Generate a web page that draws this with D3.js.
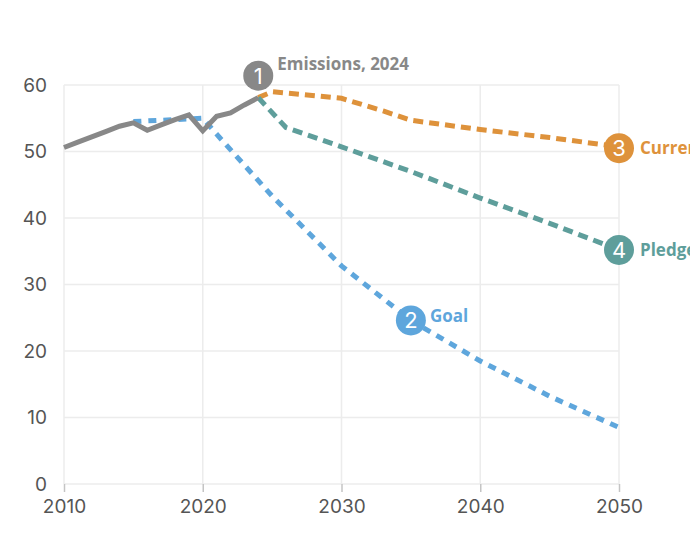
<!DOCTYPE html>
<html>
<head>
<meta charset="utf-8">
<script src="https://cdn.jsdelivr.net/npm/d3@7"></script>
<style>
  body { margin: 0; background: #fff; }
  svg { display: block; font-family: "Inter", "Noto Sans", sans-serif; }
</style>
</head>
<body>
<div id="chart"></div>
<script>
// --- Data ---
const historyYears = [2010, 2011, 2012, 2013, 2014, 2015, 2016, 2017, 2018, 2019, 2020, 2021, 2022, 2023, 2024];
const historyValues = [50.6, 51.4, 52.2, 53.0, 53.8, 54.3, 53.2, 54.0, 54.8, 55.5, 53.1, 55.3, 55.8, 57.0, 58.1];

const goalYears = [2015, 2020, 2021, 2025, 2030, 2035, 2040, 2045, 2050];
const goalValues = [54.5, 55.0, 52.6, 43.3, 32.8, 24.6, 18.5, 13.2, 8.5];

const currentYears = [2024, 2025, 2030, 2033, 2035, 2040, 2045, 2050];
const currentValues = [58.1, 59.0, 58.0, 56.1, 54.7, 53.3, 52.1, 50.7];

const pledgeYears = [2024, 2026, 2030, 2035, 2040, 2045, 2050];
const pledgeValues = [58.1, 53.6, 50.7, 47.0, 43.0, 39.2, 35.2];

const xTicks = [2010, 2020, 2030, 2040, 2050];
const yTicks = [0, 10, 20, 30, 40, 50, 60];

// --- Config ---
const width = 690;
const height = 550;
const colors = { history: '#888888', goal: '#5ea6dc', current: '#de923b', pledge: '#5e9e9b' };

const x = d3.scaleLinear().domain([2010, 2050]).range([64, 619]);
const y = d3.scaleLinear().domain([0, 60]).range([484, 85]);

const svg = d3.select('#chart').append('svg')
    .attr('width', width)
    .attr('height', height);

// --- Grid ---
const grid = svg.append('g');
grid.selectAll('line.h')
    .data(yTicks)
    .join('line')
    .attr('class', 'h')
    .attr('x1', x(2010)).attr('x2', x(2050))
    .attr('y1', d => y(d)).attr('y2', d => y(d))
    .attr('stroke', '#ececec')
    .attr('stroke-width', 1.5);

grid.selectAll('line.v')
    .data(xTicks)
    .join('line')
    .attr('class', 'v')
    .attr('x1', d => x(d)).attr('x2', d => x(d))
    .attr('y1', y(60)).attr('y2', y(0))
    .attr('stroke', '#ececec')
    .attr('stroke-width', 1.5);

// --- Axes ---
const xAxis = svg.append('g')
    .attr('transform', `translate(0,${y(0)})`)
    .call(d3.axisBottom(x).tickValues(xTicks).tickFormat(d3.format('d')).tickSize(8).tickPadding(8));
xAxis.select('.domain').remove();
xAxis.selectAll('line').attr('stroke', '#c4c4c4').attr('stroke-width', 1.5);
xAxis.selectAll('text').attr('fill', '#555').style('font-size', '19px').style('font-family', 'Inter, sans-serif');

const yAxis = svg.append('g')
    .attr('transform', `translate(${x(2010)},0)`)
    .call(d3.axisLeft(y).tickValues(yTicks).tickSize(0).tickPadding(17));
yAxis.select('.domain').remove();
yAxis.selectAll('text').attr('fill', '#555').style('font-size', '19px').style('font-family', 'Inter, sans-serif');

// --- Lines ---
const line = d3.line().x(d => x(d[0])).y(d => y(d[1]));
const zip = (a, b) => a.map((v, i) => [v, b[i]]);

function drawSeries(years, values, color, dash) {
    svg.append('path')
        .datum(zip(years, values))
        .attr('fill', 'none')
        .attr('stroke', color)
        .attr('stroke-width', 5)
        .attr('stroke-dasharray', dash)
        .attr('d', line);
}

drawSeries(goalYears, goalValues, colors.goal, '8,7');
drawSeries(currentYears, currentValues, colors.current, '10,6');
drawSeries(pledgeYears, pledgeValues, colors.pledge, '10,6');
drawSeries(historyYears, historyValues, colors.history, null);

// --- Labels ---
const labels = [
    { n: '1', text: 'Emissions, 2024', year: 2024, value: 58.1, dy: -22, color: colors.history, tx: 19, ty: -12 },
    { n: '2', text: 'Goal', year: 2035, value: 24.6, dy: 0, color: colors.goal, tx: 19, ty: -4 },
    { n: '3', text: 'Current policies', year: 2050, value: 50.5, dy: 0, color: colors.current, tx: 21, ty: 0 },
    { n: '4', text: 'Pledges', year: 2050, value: 35.2, dy: 0, color: colors.pledge, tx: 21, ty: 0 }
];

const lab = svg.selectAll('g.label')
    .data(labels)
    .join('g')
    .attr('class', 'label')
    .attr('transform', d => `translate(${x(d.year)},${y(d.value) + d.dy})`);

lab.append('circle')
    .attr('r', 15)
    .attr('fill', d => d.color);

lab.append('text')
    .attr('text-anchor', 'middle')
    .attr('dy', '0.36em')
    .attr('fill', '#fff')
    .style('font-size', '22px')
    .style('font-weight', 400)
    .text(d => d.n);

lab.append('text')
    .attr('x', d => d.tx)
    .attr('y', d => d.ty)
    .attr('dy', '0.35em')
    .attr('fill', d => d.color)
    .style('font-size', '17px')
    .style('font-weight', 700)
    .style('font-family', '"Open Sans", sans-serif')
    .text(d => d.text);
</script>
</body>
</html>
